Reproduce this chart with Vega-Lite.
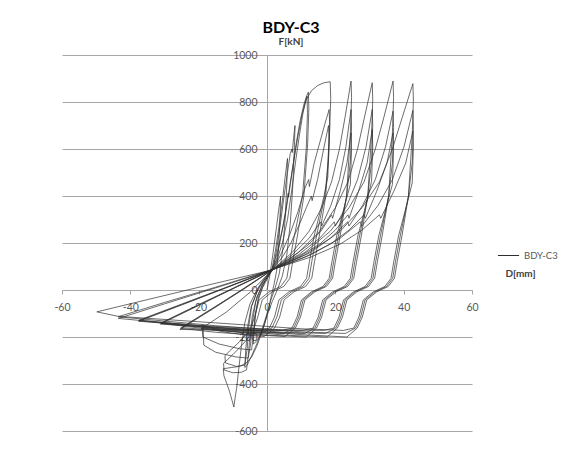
{
"$schema": "https://vega.github.io/schema/vega-lite/v6.json",
"width": 410, "height": 376,
"autosize": "none",
"padding": {"left": 62, "top": 55, "right": 94, "bottom": 28},
"background": "white",
"config": {"view": {"stroke": null}, "font": "Lato"},
"title": {"text": "BDY-C3", "subtitle": "F[kN]", "anchor": "middle", "dx": 24, "fontSize": 16, "fontWeight": "bold", "color": "#000000", "subtitleFontSize": 10, "subtitleFontWeight": "bold", "subtitleColor": "#404040", "subtitlePadding": 1, "offset": 3, "font": "Lato", "subtitleFont": "Lato"},
"data": {"values": [
{"d":0,"f":0},
{"d":0.8,"f":60},{"d":1.8,"f":160},{"d":2.8,"f":270},{"d":3.5,"f":350},{"d":4,"f":400},{"d":3.8,"f":300},{"d":3.4,"f":180},{"d":2.8,"f":80},{"d":2,"f":20},{"d":1.2,"f":-30},{"d":0.3,"f":-90},{"d":-0.8,"f":-150},{"d":-2,"f":-195},{"d":-3.2,"f":-220},{"d":-4,"f":-230},{"d":-3.8,"f":-170},{"d":-3.3,"f":-100},{"d":-2.5,"f":-40},{"d":-1.3,"f":10},{"d":0,"f":45},{"d":1.4,"f":85},
{"d":2.5,"f":170},{"d":3.5,"f":270},{"d":4.5,"f":380},{"d":5.3,"f":480},{"d":6,"f":560},{"d":5.8,"f":450},{"d":5.3,"f":300},{"d":4.6,"f":170},{"d":3.6,"f":70},{"d":2.4,"f":10},{"d":1.2,"f":-40},{"d":0,"f":-100},{"d":-1.5,"f":-170},{"d":-3,"f":-230},{"d":-4.5,"f":-280},{"d":-5.8,"f":-320},{"d":-6.5,"f":-330},{"d":-6.2,"f":-250},{"d":-5.6,"f":-150},{"d":-4.6,"f":-70},{"d":-3,"f":-10},{"d":-1,"f":40},{"d":1.8,"f":90},
{"d":2.8,"f":170},{"d":4,"f":290},{"d":5,"f":400},{"d":6,"f":500},{"d":6.8,"f":580},{"d":7.3,"f":600},{"d":7.4,"f":585},{"d":7.8,"f":650},{"d":8.2,"f":700},{"d":8,"f":600},{"d":7.5,"f":430},{"d":6.8,"f":280},{"d":5.8,"f":150},{"d":4.5,"f":60},{"d":3,"f":0},{"d":1.5,"f":-50},{"d":0,"f":-110},{"d":-1.5,"f":-180},{"d":-3,"f":-240},{"d":-4.5,"f":-285},{"d":-6,"f":-310},{"d":-8,"f":-325},{"d":-10.5,"f":-330},{"d":-12.8,"f":-335},{"d":-12.6,"f":-365},{"d":-11,"f":-430},{"d":-9.7,"f":-498},{"d":-9.3,"f":-455},{"d":-8.9,"f":-420},{"d":-8.3,"f":-340},{"d":-7.5,"f":-240},{"d":-6.5,"f":-140},{"d":-5,"f":-60},{"d":-3,"f":0},{"d":-1,"f":45},{"d":1.2,"f":82},
{"d":2.8,"f":130},{"d":4,"f":220},{"d":5.5,"f":330},{"d":6.2,"f":412},{"d":6.3,"f":395},{"d":7.3,"f":500},{"d":8.5,"f":620},{"d":9.7,"f":720},{"d":10.8,"f":790},{"d":11.6,"f":825},{"d":12.1,"f":842},{"d":12.25,"f":772},{"d":11.9,"f":622},{"d":10.8,"f":400},{"d":8.9,"f":230},{"d":7.5,"f":120},{"d":6.7,"f":50},{"d":4.9,"f":15},{"d":1.5,"f":-8},{"d":-1.4,"f":-42},{"d":-2.7,"f":-115},{"d":-4.2,"f":-180},{"d":-7,"f":-230},{"d":-10,"f":-275},{"d":-12.7,"f":-312},{"d":-12.6,"f":-340},{"d":-10,"f":-352},{"d":-7.5,"f":-350},{"d":-6,"f":-340},{"d":-5.5,"f":-280},{"d":-5,"f":-200},{"d":-4.3,"f":-110},{"d":-3,"f":-30},{"d":-1,"f":30},{"d":1.6,"f":88},
{"d":3,"f":130},{"d":4.5,"f":200},{"d":6,"f":300},{"d":7.3,"f":430},{"d":8.5,"f":560},{"d":9.5,"f":660},{"d":10.5,"f":750},{"d":11.3,"f":805},{"d":11.7,"f":825},{"d":11.85,"f":755},{"d":11.5,"f":605},{"d":10.4,"f":400},{"d":8,"f":230},{"d":6.6,"f":120},{"d":5.8,"f":50},{"d":4,"f":15},{"d":0.6,"f":-8},{"d":-2.3,"f":-42},{"d":-3.6,"f":-115},{"d":-5,"f":-170},{"d":-8,"f":-220},{"d":-11,"f":-260},{"d":-12.3,"f":-280},{"d":-12.2,"f":-310},{"d":-9,"f":-325},{"d":-6.5,"f":-320},{"d":-5.8,"f":-250},{"d":-5.3,"f":-150},{"d":-4.5,"f":-70},{"d":-2.5,"f":10},{"d":1.4,"f":85},
{"d":3,"f":160},{"d":4.5,"f":260},{"d":6,"f":380},{"d":7.5,"f":520},{"d":9,"f":650},{"d":10.3,"f":750},{"d":11.5,"f":810},{"d":13,"f":848},{"d":14.8,"f":870},{"d":16.7,"f":882},{"d":18.5,"f":886},{"d":18.65,"f":816},{"d":18.3,"f":666},{"d":17.2,"f":400},{"d":15.3,"f":230},{"d":13.9,"f":120},{"d":13.1,"f":50},{"d":11.3,"f":15},{"d":7.9,"f":-8},{"d":5,"f":-42},{"d":3.7,"f":-115},{"d":2.2,"f":-162},{"d":-0.8,"f":-198},{"d":-6,"f":-192},{"d":-12,"f":-180},{"d":-18.7,"f":-160},{"d":-18.5,"f":-235},{"d":-15,"f":-265},{"d":-9,"f":-285},{"d":-5.5,"f":-290},{"d":-4.8,"f":-230},{"d":-4.3,"f":-140},{"d":-3.3,"f":-50},{"d":-1.5,"f":20},{"d":2,"f":92},
{"d":4,"f":150},{"d":6.5,"f":230},{"d":9,"f":330},{"d":11,"f":430},{"d":12.2,"f":470},{"d":12.4,"f":440},{"d":13.8,"f":540},{"d":15.5,"f":630},{"d":17,"f":710},{"d":18.2,"f":768},{"d":18.35,"f":698},{"d":18,"f":548},{"d":16.9,"f":400},{"d":14.5,"f":230},{"d":13.1,"f":120},{"d":12.3,"f":50},{"d":10.5,"f":15},{"d":7.1,"f":-8},{"d":4.2,"f":-42},{"d":2.9,"f":-115},{"d":1.4,"f":-162},{"d":-1.6,"f":-185},{"d":-8,"f":-180},{"d":-14,"f":-170},{"d":-19,"f":-150},{"d":-18.8,"f":-200},{"d":-14,"f":-230},{"d":-8,"f":-250},{"d":-4.5,"f":-255},{"d":-4,"f":-190},{"d":-3.5,"f":-110},{"d":-2.5,"f":-30},{"d":-0.5,"f":40},{"d":1.4,"f":85},
{"d":4.5,"f":140},{"d":7,"f":200},{"d":9.5,"f":280},{"d":11.5,"f":350},{"d":13,"f":400},{"d":13.2,"f":380},{"d":14.8,"f":470},{"d":16.3,"f":580},{"d":18,"f":700},{"d":18.15,"f":630},{"d":17.8,"f":480},{"d":16.7,"f":400},{"d":13.8,"f":230},{"d":12.4,"f":120},{"d":11.6,"f":50},{"d":9.8,"f":15},{"d":6.4,"f":-8},{"d":3.5,"f":-42},{"d":2.2,"f":-115},{"d":0.7,"f":-162},{"d":-2.3,"f":-172},{"d":-10,"f":-168},{"d":-19.3,"f":-165},{"d":-12,"f":-95},{"d":-5,"f":-10},{"d":1.6,"f":86},
{"d":7.4,"f":160},{"d":12.3,"f":250},{"d":16,"f":350},{"d":18.9,"f":460},{"d":21.2,"f":600},{"d":22.9,"f":740},{"d":24.6,"f":889},{"d":24.75,"f":819},{"d":24.4,"f":669},{"d":23.3,"f":400},{"d":21.4,"f":230},{"d":20,"f":120},{"d":19.2,"f":50},{"d":17.4,"f":15},{"d":14,"f":-8},{"d":11.1,"f":-42},{"d":9.8,"f":-115},{"d":8.3,"f":-162},{"d":5.3,"f":-198},{"d":-5,"f":-190},{"d":-15,"f":-180},{"d":-25.3,"f":-163},{"d":-16,"f":-80},{"d":-7,"f":5},{"d":1.4,"f":85},
{"d":7.4,"f":150},{"d":12.3,"f":220},{"d":15.7,"f":290},{"d":16,"f":272},{"d":18.7,"f":360},{"d":21.2,"f":470},{"d":23.1,"f":610},{"d":24.6,"f":768},{"d":24.75,"f":698},{"d":24.4,"f":548},{"d":23.3,"f":400},{"d":20.9,"f":230},{"d":19.5,"f":120},{"d":18.7,"f":50},{"d":16.9,"f":15},{"d":13.5,"f":-8},{"d":10.6,"f":-42},{"d":9.3,"f":-115},{"d":7.8,"f":-162},{"d":4.8,"f":-185},{"d":-5,"f":-180},{"d":-15,"f":-172},{"d":-25,"f":-160},{"d":-16,"f":-78},{"d":-7,"f":3},{"d":1.8,"f":88},
{"d":7.4,"f":140},{"d":12.3,"f":195},{"d":16,"f":255},{"d":18.9,"f":320},{"d":19.2,"f":305},{"d":21.4,"f":420},{"d":23.4,"f":540},{"d":24.6,"f":669},{"d":24.75,"f":599},{"d":24.4,"f":449},{"d":23.3,"f":390},{"d":20.4,"f":230},{"d":19,"f":120},{"d":18.2,"f":50},{"d":16.4,"f":15},{"d":13,"f":-8},{"d":10.1,"f":-42},{"d":8.8,"f":-115},{"d":7.3,"f":-162},{"d":4.3,"f":-172},{"d":-5,"f":-172},{"d":-15,"f":-170},{"d":-25.5,"f":-168},{"d":-16,"f":-82},{"d":-7,"f":2},{"d":1.2,"f":82},
{"d":9.2,"f":160},{"d":15.4,"f":250},{"d":20,"f":350},{"d":23.7,"f":460},{"d":26.5,"f":600},{"d":28.6,"f":740},{"d":30.8,"f":882},{"d":30.95,"f":812},{"d":30.6,"f":662},{"d":29.5,"f":400},{"d":27.6,"f":230},{"d":26.2,"f":120},{"d":25.4,"f":50},{"d":23.6,"f":15},{"d":20.2,"f":-8},{"d":17.3,"f":-42},{"d":16,"f":-115},{"d":14.5,"f":-162},{"d":11.5,"f":-200},{"d":0,"f":-192},{"d":-15,"f":-170},{"d":-31.1,"f":-142},{"d":-20,"f":-64},{"d":-9,"f":13},{"d":1.4,"f":85},
{"d":9.2,"f":150},{"d":15.4,"f":220},{"d":19.7,"f":290},{"d":20,"f":272},{"d":23.4,"f":360},{"d":26.5,"f":470},{"d":29,"f":610},{"d":30.8,"f":768},{"d":30.95,"f":698},{"d":30.6,"f":548},{"d":29.5,"f":400},{"d":27.1,"f":230},{"d":25.7,"f":120},{"d":24.9,"f":50},{"d":23.1,"f":15},{"d":19.7,"f":-8},{"d":16.8,"f":-42},{"d":15.5,"f":-115},{"d":14,"f":-162},{"d":11,"f":-185},{"d":0,"f":-180},{"d":-15,"f":-163},{"d":-31,"f":-140},{"d":-20,"f":-62},{"d":-9,"f":14},{"d":1.6,"f":87},
{"d":9.2,"f":140},{"d":15.4,"f":195},{"d":20,"f":255},{"d":23.7,"f":320},{"d":24,"f":305},{"d":26.8,"f":420},{"d":29.3,"f":540},{"d":30.8,"f":683},{"d":30.95,"f":613},{"d":30.6,"f":463},{"d":29.5,"f":390},{"d":26.6,"f":230},{"d":25.2,"f":120},{"d":24.4,"f":50},{"d":22.6,"f":15},{"d":19.2,"f":-8},{"d":16.3,"f":-42},{"d":15,"f":-115},{"d":13.5,"f":-162},{"d":10.5,"f":-172},{"d":0,"f":-170},{"d":-15,"f":-160},{"d":-31.2,"f":-145},{"d":-20,"f":-66},{"d":-9,"f":12},{"d":1.4,"f":85},
{"d":11.1,"f":160},{"d":18.5,"f":250},{"d":24,"f":350},{"d":28.4,"f":460},{"d":31.7,"f":600},{"d":34.3,"f":740},{"d":36.9,"f":889},{"d":37.05,"f":819},{"d":36.7,"f":669},{"d":35.6,"f":400},{"d":33.7,"f":230},{"d":32.3,"f":120},{"d":31.5,"f":50},{"d":29.7,"f":15},{"d":26.3,"f":-8},{"d":23.4,"f":-42},{"d":22.1,"f":-115},{"d":20.6,"f":-162},{"d":17.6,"f":-200},{"d":5,"f":-192},{"d":-15,"f":-165},{"d":-37.5,"f":-131},{"d":-25,"f":-62},{"d":-12,"f":10},{"d":1.9,"f":90},
{"d":11.1,"f":150},{"d":18.5,"f":220},{"d":23.6,"f":290},{"d":24,"f":272},{"d":28,"f":360},{"d":31.7,"f":470},{"d":34.7,"f":610},{"d":36.9,"f":761},{"d":37.05,"f":691},{"d":36.7,"f":541},{"d":35.6,"f":400},{"d":33.2,"f":230},{"d":31.8,"f":120},{"d":31,"f":50},{"d":29.2,"f":15},{"d":25.8,"f":-8},{"d":22.9,"f":-42},{"d":21.6,"f":-115},{"d":20.1,"f":-162},{"d":17.1,"f":-185},{"d":5,"f":-180},{"d":-15,"f":-158},{"d":-37.4,"f":-128},{"d":-25,"f":-60},{"d":-12,"f":11},{"d":1.4,"f":85},
{"d":11.1,"f":140},{"d":18.5,"f":195},{"d":24,"f":255},{"d":28.4,"f":320},{"d":28.8,"f":305},{"d":32.1,"f":420},{"d":35.1,"f":540},{"d":36.9,"f":669},{"d":37.05,"f":599},{"d":36.7,"f":449},{"d":35.6,"f":390},{"d":32.7,"f":230},{"d":31.3,"f":120},{"d":30.5,"f":50},{"d":28.7,"f":15},{"d":25.3,"f":-8},{"d":22.4,"f":-42},{"d":21.1,"f":-115},{"d":19.6,"f":-162},{"d":16.6,"f":-172},{"d":5,"f":-170},{"d":-15,"f":-155},{"d":-37.6,"f":-133},{"d":-25,"f":-64},{"d":-12,"f":9},{"d":1.2,"f":83},
{"d":12.8,"f":160},{"d":21.4,"f":250},{"d":27.8,"f":350},{"d":32.9,"f":460},{"d":36.7,"f":600},{"d":39.7,"f":740},{"d":42.7,"f":878},{"d":42.85,"f":808},{"d":42.5,"f":658},{"d":41.4,"f":400},{"d":39.5,"f":230},{"d":38.1,"f":120},{"d":37.3,"f":50},{"d":35.5,"f":15},{"d":32.1,"f":-8},{"d":29.2,"f":-42},{"d":27.9,"f":-115},{"d":26.4,"f":-162},{"d":23.4,"f":-200},{"d":10,"f":-190},{"d":-15,"f":-160},{"d":-43.5,"f":-121},{"d":-30,"f":-59},{"d":-15,"f":9},{"d":1.4,"f":85},
{"d":12.8,"f":150},{"d":21.4,"f":220},{"d":27.3,"f":290},{"d":27.8,"f":272},{"d":32.5,"f":360},{"d":36.7,"f":470},{"d":40.1,"f":610},{"d":42.7,"f":764},{"d":42.85,"f":694},{"d":42.5,"f":544},{"d":41.4,"f":400},{"d":39,"f":230},{"d":37.6,"f":120},{"d":36.8,"f":50},{"d":35,"f":15},{"d":31.6,"f":-8},{"d":28.7,"f":-42},{"d":27.4,"f":-115},{"d":25.9,"f":-162},{"d":22.9,"f":-185},{"d":10,"f":-178},{"d":-15,"f":-152},{"d":-43.6,"f":-114},{"d":-30,"f":-53},{"d":-15,"f":12},{"d":1.7,"f":88},
{"d":12.8,"f":140},{"d":21.4,"f":195},{"d":27.8,"f":255},{"d":32.9,"f":320},{"d":33.3,"f":305},{"d":37.1,"f":420},{"d":40.6,"f":540},{"d":42.7,"f":676},{"d":42.85,"f":606},{"d":42.5,"f":456},{"d":41.4,"f":390},{"d":38.5,"f":230},{"d":37.1,"f":120},{"d":36.3,"f":50},{"d":34.5,"f":15},{"d":31.1,"f":-8},{"d":28.2,"f":-42},{"d":26.9,"f":-115},{"d":25.4,"f":-162},{"d":22.4,"f":-172},{"d":10,"f":-165},{"d":-15,"f":-140},{"d":-43.6,"f":-112},{"d":-49.8,"f":-93},{"d":-35,"f":-41},{"d":-17,"f":22},{"d":1.4,"f":85}
]},
"mark": {"type": "line", "strokeWidth": 0.7},
"encoding": {
"x": {"field": "d", "type": "quantitative", "scale": {"domain": [-60, 60], "nice": false, "zero": false},
 "axis": {"orient": "bottom", "offset": -141, "values": [-60,-40,-20,0,20,40,60], "labelExpr": "'' + datum.value", "grid": false, "domainColor": "#a6a6a6", "tickColor": "#a6a6a6", "tickSize": 4, "labelFontSize": 10.5, "labelColor": "#595959", "labelPadding": 8, "labelFlush": false, "labelFont": "Lato", "title": "D[mm]", "titleX": 458, "titleY": -17, "titleAlign": "center", "titleBaseline": "middle", "titleFontSize": 10, "titleFontWeight": "bold", "titleColor": "#404040", "titleFont": "Lato"}},
"y": {"field": "f", "type": "quantitative", "scale": {"domain": [-600, 1000], "nice": false},
 "axis": {"orient": "left", "offset": -205, "values": [-600,-400,-200,0,200,400,600,800,1000], "labelExpr": "'' + datum.value", "grid": true, "gridColor": "#a6a6a6", "gridWidth": 1, "domainColor": "#a6a6a6", "tickColor": "#a6a6a6", "tickSize": 4, "labelPadding": 6, "labelFontSize": 10.5, "labelColor": "#595959", "labelFont": "Lato", "title": null}},
"order": {"value": null},
"color": {"datum": "BDY-C3", "scale": {"range": ["#2e2e2e"]},
 "legend": {"orient": "none", "legendX": 435, "legendY": 189, "symbolType": "stroke", "symbolSize": 450, "symbolStrokeWidth": 1, "labelFontSize": 9.5, "labelFont": "Lato", "labelColor": "#595959", "title": null, "padding": 0}}
}
}
